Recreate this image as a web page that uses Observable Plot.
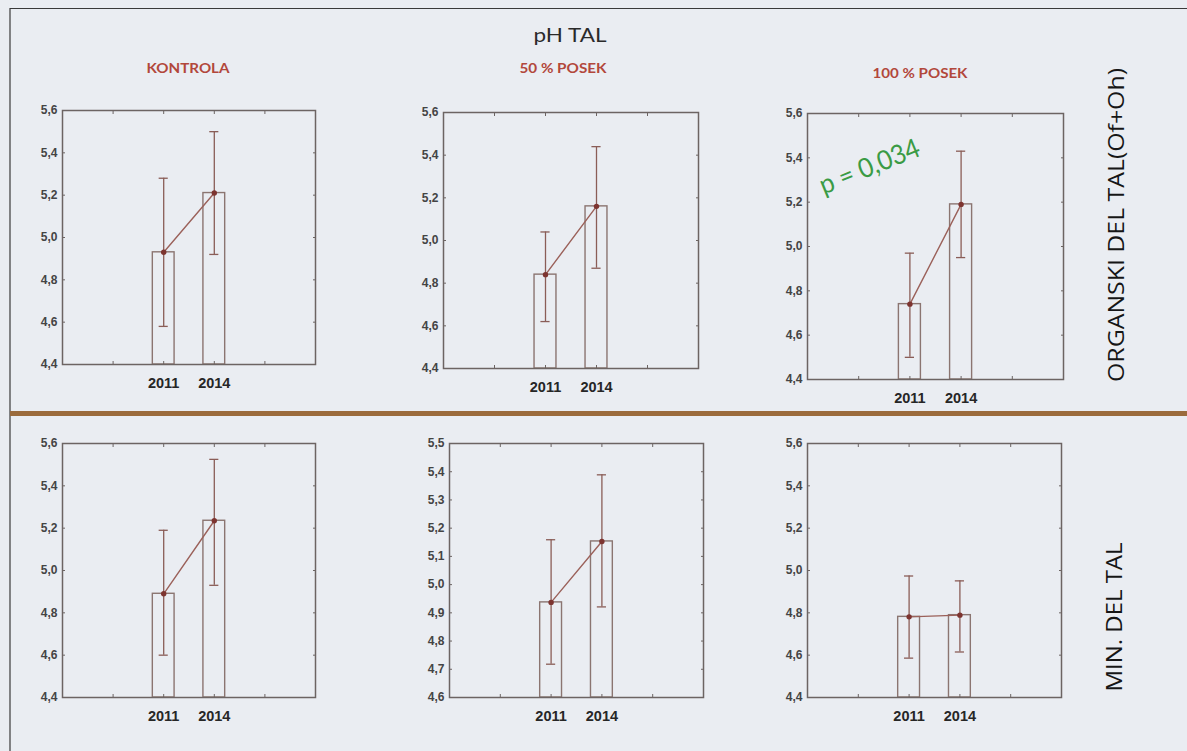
<!DOCTYPE html>
<html><head><meta charset="utf-8">
<script src="https://cdn.jsdelivr.net/npm/d3@7"></script>
<script src="https://cdn.jsdelivr.net/npm/@observablehq/plot@0.6"></script>
<style>
body{margin:0;background:#eaedf2;}
#page{position:relative;width:1187px;height:751px;background:#eaedf2;overflow:hidden;}
.panel{position:absolute;}
#overlay{position:absolute;left:0;top:0;pointer-events:none;}
</style></head>
<body><div id="page"></div>
<script>
// ---- data ----
const years = ["2011", "2014"];
const treatments = ["KONTROLA", "50 % POSEK", "100 % POSEK"];
const layers = ["ORGANSKI DEL TAL(Of+Oh)", "MIN. DEL TAL"];
const title = "pH TAL";
const pValue = "p = 0,034";

// organic layer (top row): per treatment, [2011, 2014]
const organicMean = [[4.93, 5.21], [4.84, 5.16], [4.74, 5.19]];
const organicLow  = [[4.58, 4.92], [4.62, 4.87], [4.50, 4.95]];
const organicHigh = [[5.28, 5.50], [5.04, 5.44], [4.97, 5.43]];
// mineral layer (bottom row)
const mineralMean = [[4.89, 5.235], [4.937, 5.153], [4.781, 4.789]];
const mineralLow  = [[4.60, 4.93], [4.718, 4.921], [4.586, 4.615]];
const mineralHigh = [[5.19, 5.525], [5.159, 5.389], [4.974, 4.951]];

const ticksWide = [4.4, 4.6, 4.8, 5.0, 5.2, 5.4, 5.6];
const ticksNarrow = [4.6, 4.7, 4.8, 4.9, 5.0, 5.1, 5.2, 5.3, 5.4, 5.5];
const organicTicks = [ticksWide, ticksWide, ticksWide];
const mineralTicks = [ticksWide, ticksNarrow, ticksWide];

// ---- layout ----
const boxes = [
  [{x:62, y:110, w:253, h:254}, {x:443, y:112, w:255, h:256}, {x:807, y:113, w:256, h:266}],
  [{x:62, y:443, w:253, h:254}, {x:449, y:443, w:254, h:254}, {x:807, y:443, w:254, h:254}]
];

const page = document.getElementById("page");
const fmt = d => d.toFixed(1).replace(".", ",");
const frameColor = "#6c6463";

function panel(means, lows, highs, ticks, box) {
  const data = years.map((y, i) => ({year: y, x: i + 2, mean: means[i], lo: lows[i], hi: highs[i]}));
  const yDom = [ticks[0], ticks[ticks.length - 1]];
  const mL = 40, mR = 12, mT = 8, mB = 32;
  const plot = Plot.plot({
    width: box.w + mL + mR, height: box.h + mT + mB,
    marginLeft: mL, marginRight: mR, marginTop: mT, marginBottom: mB,
    style: {background: "transparent", fontFamily: "'Liberation Sans', Arial, sans-serif", overflow: "visible"},
    x: {domain: [0, 5], axis: null},
    y: {domain: yDom, axis: null},
    marks: [
      Plot.rect(data, {x1: d => d.x - 0.215, x2: d => d.x + 0.215, y1: () => yDom[0], y2: "mean",
        fill: "none", stroke: "#8b7571", strokeWidth: 1.4}),
      Plot.ruleX(data, {x: "x", y1: "lo", y2: "hi", stroke: "#8a5d57", strokeWidth: 1.3}),
      Plot.ruleY(data, {y: "lo", x1: d => d.x - 0.09, x2: d => d.x + 0.09, stroke: "#8a5d57", strokeWidth: 1.3}),
      Plot.ruleY(data, {y: "hi", x1: d => d.x - 0.09, x2: d => d.x + 0.09, stroke: "#8a5d57", strokeWidth: 1.3}),
      Plot.line(data, {x: "x", y: "mean", stroke: "#9b615a", strokeWidth: 1.4}),
      Plot.dot(data, {x: "x", y: "mean", r: 2.7, fill: "#7d3430", stroke: "none"}),
      Plot.axisY(ticks, {anchor: "left", tickSize: 0, tickPadding: 5, tickFormat: fmt,
        fontSize: 12, fontWeight: "bold", fill: "#444", label: null}),
      Plot.axisY(ticks, {anchor: "left", tickSize: -3, tickFormat: () => "", stroke: frameColor, label: null}),
      Plot.axisY(ticks, {anchor: "right", tickSize: -3, tickFormat: () => "", stroke: frameColor, label: null}),
      Plot.axisX([1, 2, 3, 4], {anchor: "bottom", tickSize: -3, tickFormat: () => "", stroke: frameColor, label: null}),
      Plot.axisX([1, 2, 3, 4], {anchor: "top", tickSize: -3, tickFormat: () => "", stroke: frameColor, label: null}),
      Plot.axisX([2, 3], {anchor: "bottom", tickSize: 0, tickPadding: 13, tickFormat: d => years[d - 2],
        fontSize: 14.5, fontWeight: "bold", fill: "#262626", label: null}),
      Plot.frame({stroke: frameColor, strokeWidth: 1.5})
    ]
  });
  plot.classList.add("panel");
  plot.style.left = (box.x - mL) + "px";
  plot.style.top = (box.y - mT) + "px";
  page.appendChild(plot);
}

treatments.forEach((t, j) => {
  panel(organicMean[j], organicLow[j], organicHigh[j], organicTicks[j], boxes[0][j]);
  panel(mineralMean[j], mineralLow[j], mineralHigh[j], mineralTicks[j], boxes[1][j]);
});

// ---- decorations & texts ----
const svg = d3.select(page).append("svg").attr("id", "overlay").attr("width", 1187).attr("height", 751);
svg.append("line").attr("x1", 10).attr("x2", 1187).attr("y1", 8.5).attr("y2", 8.5).attr("stroke", "#3a3a3a").attr("stroke-width", 1.2);
svg.append("line").attr("x1", 10).attr("x2", 10).attr("y1", 8).attr("y2", 751).attr("stroke", "#3a3a3a").attr("stroke-width", 1.2);
svg.append("rect").attr("x", 10).attr("y", 411).attr("width", 1177).attr("height", 5).attr("fill", "#9b6b3c");

svg.append("text").attr("x", 570).attr("y", 42).attr("text-anchor", "middle")
  .attr("font-family", "Lato, 'Open Sans', sans-serif").attr("font-size", 20).attr("fill", "#2a2a2a")
  .attr("textLength", 73).attr("lengthAdjust", "spacingAndGlyphs").text(title);

const colTitleX = [188, 563, 920], colTitleY = [73, 73, 78], colTitleLen = [83, 87, 95];
treatments.forEach((t, j) => {
  svg.append("text").attr("x", colTitleX[j]).attr("y", colTitleY[j]).attr("text-anchor", "middle")
    .attr("font-family", "Lato, 'Open Sans', sans-serif").attr("font-weight", "bold").attr("font-size", 13.5)
    .attr("fill", "#b2473b").attr("textLength", colTitleLen[j]).attr("lengthAdjust", "spacingAndGlyphs").text(t);
});

const rowLabelX = [1124, 1122], rowLabelY = [225, 617], rowLabelLen = [314, 149];
layers.forEach((l, i) => {
  svg.append("text").attr("transform", `translate(${rowLabelX[i]},${rowLabelY[i]}) rotate(-90)`)
    .attr("text-anchor", "middle").attr("font-family", "'Open Sans', Lato, sans-serif").attr("font-size", 22)
    .attr("fill", "#161616").attr("textLength", rowLabelLen[i]).attr("lengthAdjust", "spacingAndGlyphs").text(l);
});

svg.append("text").attr("transform", "translate(873,175) rotate(-22)").attr("text-anchor", "middle")
  .attr("font-family", "Lato, 'Open Sans', sans-serif").attr("font-size", 27).attr("fill", "#3a9b45")
  .attr("textLength", 106).attr("lengthAdjust", "spacingAndGlyphs").text(pValue);
</script></body></html>
